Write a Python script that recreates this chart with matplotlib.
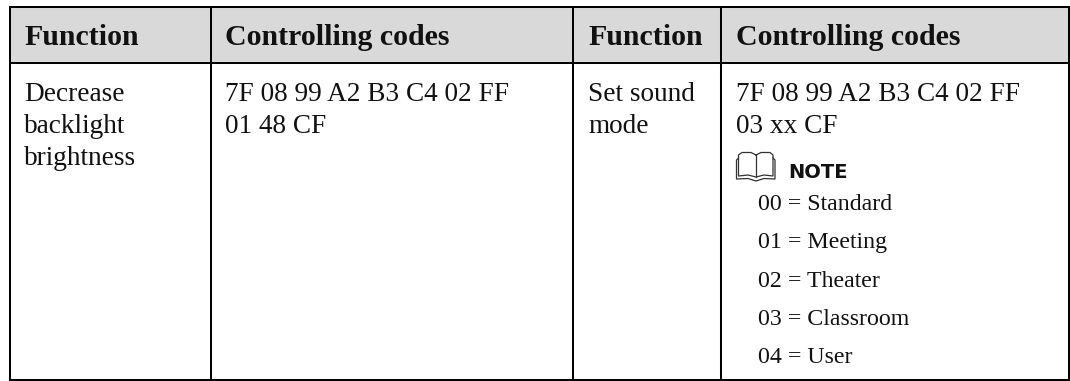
import matplotlib
matplotlib.use("Agg")
import matplotlib.pyplot as plt

headers=["Function","Controlling codes","Function","Controlling codes"]
col_lines=[9.5,211,573,721,1068.5]
row_lines=[7,63,380]
col_text=[24,225,588,736]

func1=["Decrease","backlight","brightness"]
codes1=["7F 08 99 A2 B3 C4 02 FF","01 48 CF"]
func2=["Set sound","mode"]
codes2=["7F 08 99 A2 B3 C4 02 FF","03 xx CF"]
body_base=[101,133,165]

note_title="NOTE"
note_rows=["00 = Standard","01 = Meeting","02 = Theater","03 = Classroom","04 = User"]
note_base=[210,248,287,325,363]

fig=plt.figure(figsize=(10.7,3.81),dpi=100)
ax=fig.add_axes([0,0,1,1])
ax.set_xlim(0,1070)
ax.set_ylim(381,0)
ax.axis("off")

# header band
ax.fill_between([col_lines[0],col_lines[-1]],row_lines[0],row_lines[1],color="#d9d9d9",lw=0)

for x in col_lines:
    ax.plot([x,x],[row_lines[0],row_lines[-1]],color="black",lw=1.45,solid_capstyle="projecting")
for y in row_lines:
    ax.plot([col_lines[0],col_lines[-1]],[y,y],color="black",lw=1.45,solid_capstyle="projecting")

serif="Liberation Serif"
for x,h in zip(col_text,headers):
    ax.text(x,45,h,family=serif,weight="bold",fontsize=21.5,va="baseline",color="#111111")

def column(x,lines):
    for y,t in zip(body_base,lines):
        ax.text(x,y,t,family=serif,fontsize=19.6,va="baseline",color="#111111")

column(col_text[0],func1)
column(col_text[1],codes1)
column(col_text[2],func2)
column(col_text[3],codes2)

# book icon
ic="#333333"
ax.plot([756,751,742,738.5,738.5,748,756,764,773,773,770,761,756],
        [155,152.5,152.5,155,176,175,177,175,176,155,152.5,152.5,155],color=ic,lw=0.9)
ax.plot([756,756],[155,177],color=ic,lw=0.9)
ax.plot([738.5,736.5,736.5,748,756,764,775,775,773],
        [158,160,179,178.5,181,178.5,179,160,158],color=ic,lw=0.9)

ax.text(788,178,note_title,family="DejaVu Sans",weight="bold",fontsize=14,va="baseline",color="#111111")

for y,t in zip(note_base,note_rows):
    ax.text(758,y,t,family=serif,fontsize=17.2,va="baseline",color="#111111")

fig.savefig("out.png",dpi=100,facecolor="white")
